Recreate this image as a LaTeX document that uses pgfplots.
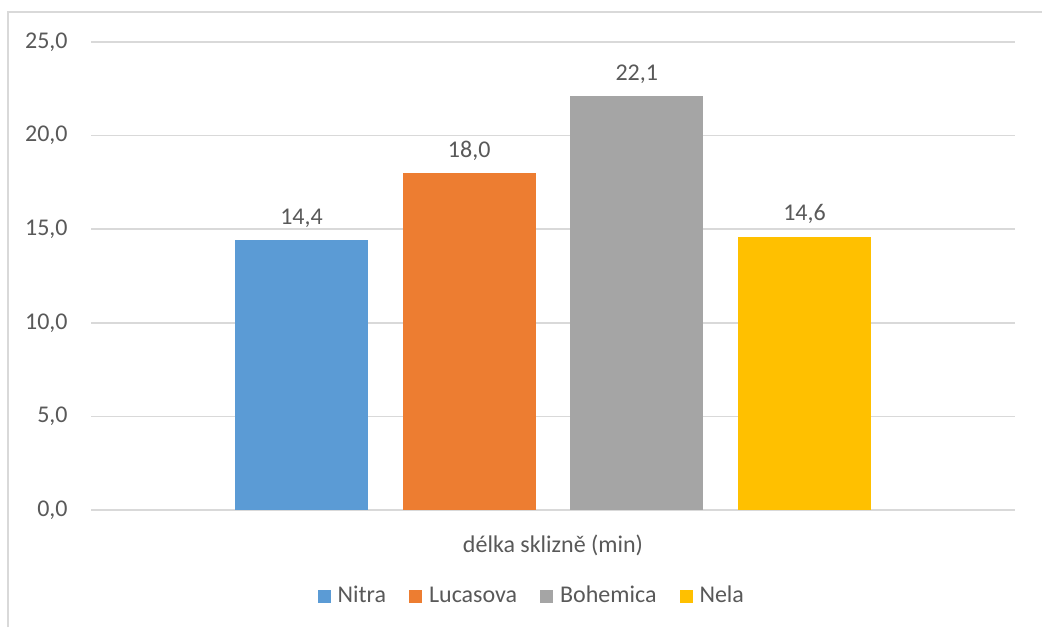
\documentclass[border=0pt]{standalone}
\usepackage{pgfplots}
\pgfplotsset{compat=1.18}
\usepackage{fontspec}
\setmainfont{Carlito}
\definecolor{txt}{HTML}{595959}
\definecolor{grd}{HTML}{D9D9D9}
\definecolor{cA}{HTML}{5B9BD5}
\definecolor{cB}{HTML}{ED7D31}
\definecolor{cC}{HTML}{A5A5A5}
\definecolor{cD}{HTML}{FFC000}
\begin{document}
\begin{tikzpicture}
\useasboundingbox (0,0) rectangle (521pt,313.5pt);
\fill[white] (0,0) rectangle (521pt,313.5pt);
\draw[grd, line width=0.8pt] (4pt,0) -- (4pt,307.5pt) -- (521pt,307.5pt);
\begin{axis}[
  at={(45.5pt,58.5pt)}, anchor=south west,
  scale only axis, width=462pt, height=234pt,
  xmin=-1, xmax=1, ymin=0, ymax=25,
  ytick={0,5,10,15,20,25},
  xtick={0}, xticklabels={délka sklizně (min)},
  axis line style={draw=none},
  major tick length=0pt,
  ymajorgrids, grid style={grd, line width=0.8pt},
  clip=false,
  font=\fontsize{12}{14}\selectfont,
  every tick label/.append style={text=txt, font=\fontsize{12}{14}\selectfont},
  /pgf/number format/assume math mode=true,
  yticklabel={\pgfmathprintnumber[fixed,fixed zerofill,precision=1,use comma]{\tick}},
  yticklabel style={anchor=east, inner sep=0pt, xshift=-11.5pt},
  xticklabel style={anchor=base, inner sep=0pt, yshift=-21pt},
  nodes near coords={\pgfmathprintnumber[fixed,fixed zerofill,precision=1,use comma]{\pgfplotspointmeta}},
  every node near coord/.append style={anchor=base, inner sep=0pt, yshift=8pt, text=txt, font=\fontsize{12}{14}\selectfont},
  legend columns=4,
  legend style={at={(0.476,-0.1838)}, anchor=center, draw=none, fill=none,
    text=txt, font=\fontsize{12}{14}\selectfont,
    nodes={inner sep=0pt, anchor=west},
    /tikz/every odd column/.append style={column sep=3.5pt},
    /tikz/every even column/.append style={column sep=11.5pt}},
  legend image code/.code={\fill[#1] (0pt,-3.25pt) rectangle (6.5pt,3.25pt);},
]
\addplot[ybar, bar width=66.5pt, bar shift=-125.75pt, fill=cA, draw=none,
  every node near coord/.append style={xshift=-125.75pt}] coordinates {(0,14.4)};
\addplot[ybar, bar width=66.5pt, bar shift=-41.9pt, fill=cB, draw=none,
  every node near coord/.append style={xshift=-41.9pt}] coordinates {(0,18.0)};
\addplot[ybar, bar width=66.5pt, bar shift=41.9pt, fill=cC, draw=none,
  every node near coord/.append style={xshift=41.9pt}] coordinates {(0,22.1)};
\addplot[ybar, bar width=66.5pt, bar shift=125.75pt, fill=cD, draw=none,
  every node near coord/.append style={xshift=125.75pt}] coordinates {(0,14.6)};
\legend{Nitra, Lucasova, Bohemica, Nela}
\end{axis}
\end{tikzpicture}
\end{document}
